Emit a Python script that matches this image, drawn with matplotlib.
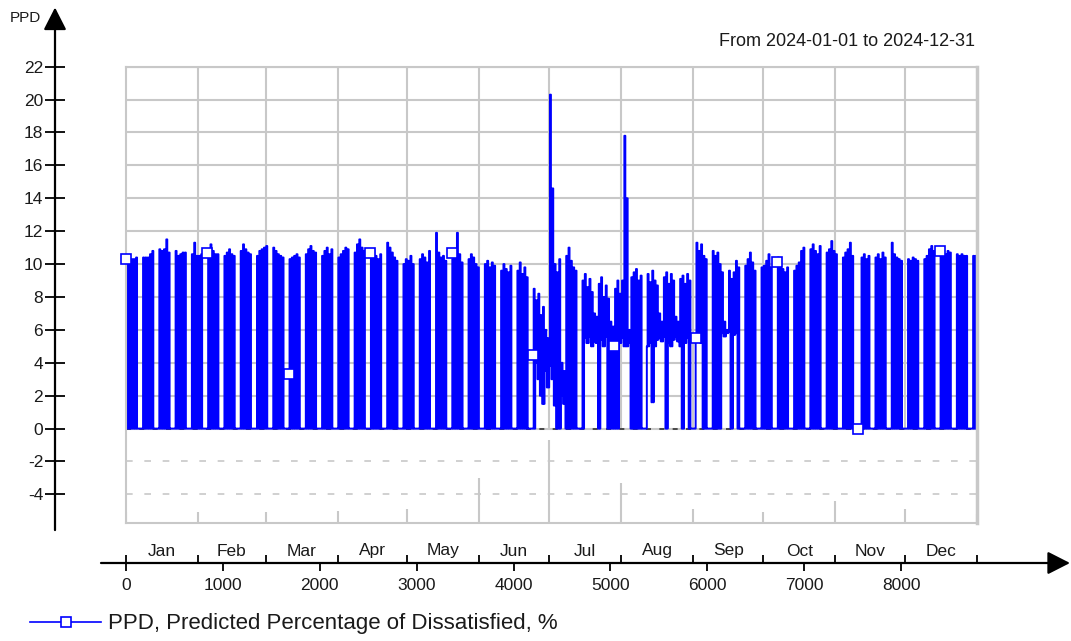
import numpy as np
import matplotlib.pyplot as plt
from matplotlib.lines import Line2D

plt.rcParams['font.family'] = ['Liberation Sans', 'DejaVu Sans']
plt.rcParams['axes.unicode_minus'] = False
plt.rcParams['path.simplify'] = False

# PPD, % - daily value during occupied hours (peak) and outside them (low)
jan_peak = [10.3, 10.3, 10.3, 10.3, 10.4, 0, 0, 10.4, 10.4, 10.4, 10.6, 10.8, 0, 0,
            10.9, 10.8, 10.9, 11.5, 10.7, 0, 0, 10.8, 10.5, 10.6, 10.7, 10.7, 0, 0,
            10.6, 11.3, 10.5]
feb_peak = [10.5, 10.6, 0, 0, 10.7, 11.2, 10.8, 10.6, 10.6, 0, 0, 10.5, 10.7, 10.9,
            10.6, 10.5, 0, 0, 10.8, 11.2, 10.9, 10.7, 10.6, 0, 0, 10.5, 10.8, 10.9, 11.0]
mar_peak = [11.1, 0, 0, 11.0, 10.8, 10.6, 10.5, 10.4, 0, 0, 10.3, 10.4, 10.5, 10.6,
            10.4, 0, 0, 10.6, 10.9, 11.1, 10.8, 10.7, 0, 0, 10.5, 10.8, 11.0, 10.6,
            10.9, 0, 0]
apr_peak = [10.4, 10.6, 10.8, 11.0, 10.9, 0, 0, 10.7, 11.2, 11.5, 11.0, 10.8, 0, 0,
            10.6, 10.9, 10.5, 10.3, 10.6, 0, 0, 11.3, 11.0, 10.7, 10.4, 10.2, 0, 0,
            10.0, 10.3]
may_peak = [10.2, 10.5, 10.0, 0, 0, 10.3, 10.6, 10.4, 10.1, 10.8, 0, 0, 11.9, 10.7,
            10.4, 10.5, 10.2, 0, 0, 10.3, 10.9, 11.9, 10.6, 10.1, 0, 0, 10.3, 10.6,
            10.4, 10.0, 9.8]
jun_peak = [0, 0, 10.0, 10.2, 9.8, 10.1, 9.9, 0, 0, 9.6, 10.0, 9.7, 9.5, 9.9, 0, 0,
            9.6, 10.1, 9.4, 9.8, 9.2, 0, 0, 8.5, 7.8, 8.2, 6.9, 7.4, 6.0, 5.5]
jul_peak = [20.3, 14.6, 10.0, 9.5, 10.3, 4.0, 3.5, 10.5, 11.0, 10.2, 9.8, 9.6, 0, 0,
            9.0, 9.4, 8.6, 9.1, 8.3, 7.0, 6.8, 8.8, 9.2, 8.0, 8.7, 7.9, 6.5, 6.2,
            8.5, 9.0, 8.2]
aug_peak = [9.0, 17.8, 14.0, 6.0, 9.2, 9.5, 9.7, 9.0, 9.3, 0, 0, 9.4, 8.9, 9.6,
            9.0, 8.7, 7.0, 6.5, 9.2, 9.5, 8.8, 9.4, 9.0, 6.8, 6.5, 9.1, 9.3, 8.8,
            9.4, 9.0, 0]
sep_peak = [0, 11.3, 10.8, 11.2, 10.5, 10.3, 0, 0, 10.8, 10.5, 10.7, 10.0, 9.5, 6.5,
            6.0, 9.6, 9.1, 9.5, 10.2, 9.8, 0, 0, 9.9, 10.3, 10.7, 10.1, 9.6, 0, 0, 9.8]
oct_peak = [9.9, 10.2, 10.6, 9.8, 0, 0, 10.4, 10.1, 9.7, 9.5, 9.8, 0, 0, 9.6, 9.9,
            10.1, 10.8, 11.0, 0, 0, 10.9, 11.2, 10.8, 10.6, 11.1, 0, 0, 10.7, 10.9,
            11.4, 10.8]
nov_peak = [10.6, 0, 0, 10.4, 10.7, 10.9, 11.3, 10.5, 0, 0, 0, 10.4, 10.6, 10.3,
            10.5, 0, 0, 10.4, 10.6, 10.3, 10.7, 10.4, 0, 0, 11.3, 10.6, 10.4, 10.3,
            10.2, 0]
dec_peak = [0, 10.3, 10.2, 10.4, 10.3, 10.2, 0, 0, 10.3, 10.5, 10.9, 11.1, 10.8, 0,
            0, 10.7, 10.9, 10.6, 10.8, 10.7, 0, 0, 10.6, 10.5, 10.6, 10.5, 10.5, 0, 0,
            10.5, 10.5]

jan_low = [0] * 31
feb_low = [0] * 29
mar_low = [0] * 31
apr_low = [0] * 30
may_low = [0] * 31
jun_low = [0] * 23 + [0, 4.0, 3.0, 2.0, 1.5, 3.5, 2.5]
jul_low = [3.8, 3.0, 1.4, 0, 0, 2.0, 1.5, 0, 0, 0, 0, 0, 0, 0, 0, 5.5, 5.2, 5.6,
           5.0, 5.3, 5.2, 0, 5.4, 5.0, 5.6, 0, 0, 0, 0, 0, 5.2]
aug_low = [5.5, 5.0, 5.0, 5.2, 0, 0, 0, 0, 0, 0, 0, 5.0, 5.2, 1.6, 5.0, 5.4, 5.5,
           5.3, 5.6, 0, 5.2, 5.0, 5.4, 5.6, 5.3, 5.0, 0, 5.2, 5.5, 0, 0]
sep_low = [0, 5.4, 5.6, 5.2, 0, 0, 0, 0, 0, 0, 0, 0, 5.8, 5.6, 5.8, 5.9, 0, 5.7,
           5.8, 0, 0, 0, 0, 0, 0, 0, 0, 0, 0, 0]
oct_low = [0] * 31
nov_low = [0] * 30
dec_low = [0] * 31

month_names = ['Jan', 'Feb', 'Mar', 'Apr', 'May', 'Jun',
               'Jul', 'Aug', 'Sep', 'Oct', 'Nov', 'Dec']
month_days = [31, 29, 31, 30, 31, 30, 31, 31, 30, 31, 30, 31]

# square markers drawn on the curve (hour, value)
marker_hours = [0, 840, 1680, 2520, 3360, 4200, 5040, 5880, 6720, 7560, 8400]
marker_vals = [10.3, 10.7, 3.3, 10.7, 10.7, 4.5, 5.0, 5.5, 10.1, 0.0, 10.8]

y_ticks = [-4, -2, 0, 2, 4, 6, 8, 10, 12, 14, 16, 18, 20, 22]
x_ticks = [0, 1000, 2000, 3000, 4000, 5000, 6000, 7000, 8000]
# top of the short grey stubs under the zero line at each month boundary
stub_tops = [-5.1, -5.1, -5.1, -5.0, -4.9, -3.0, -0.7, -3.3, -4.9, -5.1, -4.4, -4.9, -5.2]

peak = np.concatenate([jan_peak, feb_peak, mar_peak, apr_peak, may_peak, jun_peak,
                       jul_peak, aug_peak, sep_peak, oct_peak, nov_peak, dec_peak])
low = np.concatenate([jan_low, feb_low, mar_low, apr_low, may_low, jun_low,
                      jul_low, aug_low, sep_low, oct_low, nov_low, dec_low])

# occupied 08-18 each day
occupied = np.zeros(24, dtype=bool)
occupied[8:18] = True
hourly = np.where(occupied[None, :], peak[:, None], low[:, None]).ravel()
hours = np.arange(hourly.size)

bounds = np.concatenate([[0], np.cumsum(month_days) * 24])
centers = (bounds[:-1] + bounds[1:]) / 2
n_hours = bounds[-1]

grey = '#c8c8c8'
blue = '#0000ff'
ybot = -5.74

fig = plt.figure(figsize=(10.71, 6.41), dpi=100)
ax = fig.add_axes([126 / 1071, 118 / 641, 851 / 1071, 456.3 / 641])
ax.set_xlim(0, n_hours)
ax.set_ylim(ybot, 22)
ax.set_xticks([])
ax.set_yticks([])
for s in ax.spines.values():
    s.set_color(grey)
    s.set_linewidth(1.5)
ax.spines['right'].set_linewidth(2.5)

# grid
ax.hlines([v for v in y_ticks if v >= 0], 0, n_hours, color=grey, lw=1.5, zorder=0)
ax.vlines(bounds[1:-1], 0, 22, color=grey, lw=1.5, zorder=0)
ax.hlines([-2, -4], 0, n_hours, color=grey, lw=1.2, linestyles=(0, (4, 7)), zorder=0)
ax.vlines(bounds, stub_tops, ybot, color=grey, lw=1.5, zorder=0)
ax.hlines(0, 0, n_hours, color='#333333', lw=1.2, linestyles=(0, (3, 5)), zorder=1)

ax.step(hours, hourly, where='post', color=blue, lw=1.4, zorder=2)
ax.plot(marker_hours, marker_vals, ls='none', marker='s', ms=7.5, mfc='white',
        mec=blue, mew=1.2, zorder=3, clip_on=False)

# y axis with arrow
yloc = -71 / 851
sy = ax.secondary_yaxis(yloc)
sy.spines['left'].set_visible(False)
sy.set_yticks(y_ticks)
sy.tick_params(direction='inout', length=14, width=1.3, pad=1.5, labelsize=12.5,
               labelcolor='#1a1a1a')
ax.annotate('', xy=(yloc, 25.6), xytext=(yloc, -6.17),
            xycoords=ax.get_yaxis_transform(), annotation_clip=False,
            arrowprops=dict(arrowstyle='-|>,head_length=0.55,head_width=0.28',
                            mutation_scale=25, color='black', lw=1.6,
                            shrinkA=0, shrinkB=0))

# x axis with arrow
xloc = -40 / 456.3
sx = ax.secondary_xaxis(xloc)
sx.spines['bottom'].set_visible(False)
sx.set_xticks(x_ticks)
sx.tick_params(direction='out', length=6, width=1.3, pad=5, labelsize=12.5,
               labelcolor='#1a1a1a')
sm = ax.secondary_xaxis(xloc)
sm.spines['bottom'].set_visible(False)
sm.set_xticks(bounds)
sm.set_xticklabels([])
sm.tick_params(direction='in', length=6, width=1.3)
for c, name in zip(centers, month_names):
    ax.text(c, -28 / 456.3, name, transform=ax.get_xaxis_transform(), ha='center',
            va='center', fontsize=12.5, color='#1a1a1a')
ax.annotate('', xy=(944 / 851, xloc), xytext=(-25 / 851, xloc),
            xycoords='axes fraction', annotation_clip=False,
            arrowprops=dict(arrowstyle='-|>,head_length=0.55,head_width=0.28',
                            mutation_scale=25, color='black', lw=1.6,
                            shrinkA=0, shrinkB=0))

fig.text(10 / 1071, 1 - 18 / 641, 'PPD', ha='left', va='center', fontsize=11,
         color='#1a1a1a')
fig.text(975 / 1071, 1 - 42 / 641, 'From 2024-01-01 to 2024-12-31', ha='right',
         va='center', fontsize=13, color='#1a1a1a')

handle = Line2D([], [], color=blue, lw=1.2, marker='s', ms=7.5, mfc='white',
                mec=blue, mew=1.2)
fig.legend([handle], ['PPD, Predicted Percentage of Dissatisfied, %'],
           loc='center left', bbox_to_anchor=(30 / 1071, 1 - 624 / 641),
           frameon=False, fontsize=16, handlelength=3.2, handletextpad=0.33,
           borderpad=0, borderaxespad=0, labelcolor='#1a1a1a')

fig.savefig('out.png', dpi=100)
